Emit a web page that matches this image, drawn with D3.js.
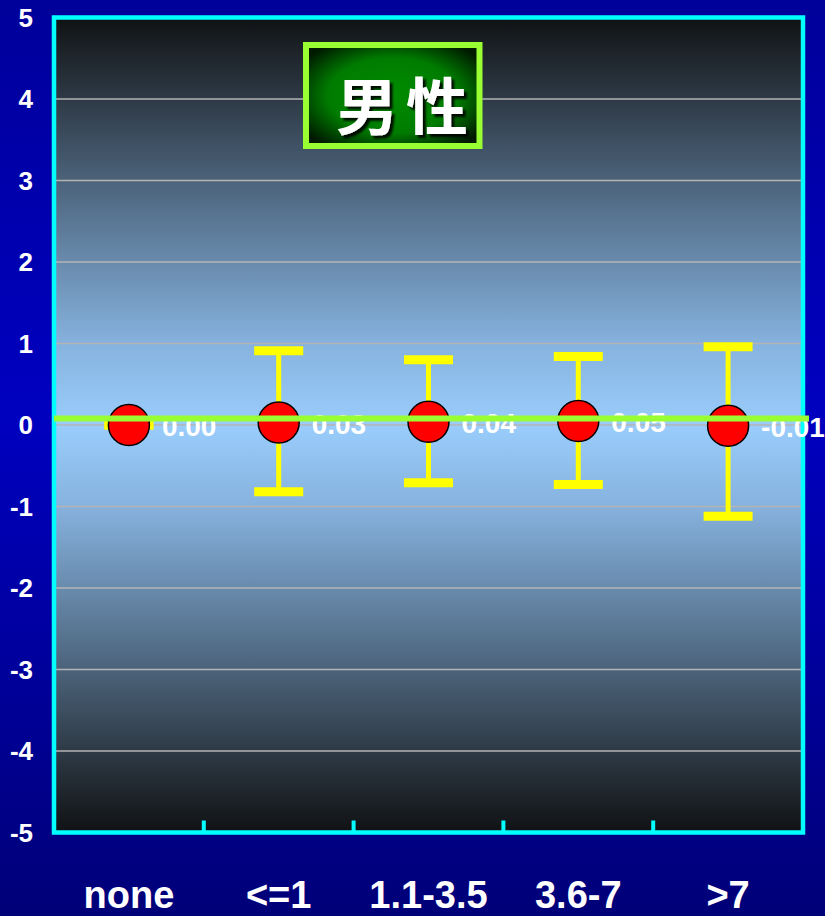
<!DOCTYPE html>
<html><head><meta charset="utf-8">
<script src="https://cdn.jsdelivr.net/npm/d3@7"></script>
<style>body{margin:0;background:#0000a0;}svg{display:block;}</style>
</head><body>
<script>
const categories = ["none", "<=1", "1.1-3.5", "3.6-7", ">7"];
const estimates = [0.00, 0.03, 0.04, 0.05, -0.01];
const upper = [0.00, 0.91, 0.80, 0.84, 0.96];
const lower = [0.00, -0.82, -0.71, -0.73, -1.12];
const valueLabels = ["0.00", "0.03", "0.04", "0.05", "-0.01"];
const yTicks = [5, 4, 3, 2, 1, 0, -1, -2, -3, -4, -5];
const refLine = 0.08;
const title = "男性";

(function () {
const W = 825, H = 916;
const svg = d3.select("body").append("svg").attr("width", W).attr("height", H);
const defs = svg.append("defs");

const bg = defs.append("linearGradient").attr("id", "bg").attr("x1", 0).attr("y1", 0).attr("x2", 0).attr("y2", 1);
[[0, "#00009a"], [0.45, "#0000c0"], [1, "#000078"]].forEach(s => bg.append("stop").attr("offset", s[0]).attr("stop-color", s[1]));

const pg = defs.append("linearGradient").attr("id", "pg").attr("x1", 0).attr("y1", 0).attr("x2", 0).attr("y2", 1);
[[0, "#101214"], [0.1, "#2e3a46"], [0.25, "#5a7794"], [0.4, "#86b2de"], [0.5, "#9acdfc"], [0.6, "#86b2de"], [0.75, "#5a7794"], [0.9, "#2e3a46"], [1, "#101214"]]
  .forEach(s => pg.append("stop").attr("offset", s[0]).attr("stop-color", s[1]));

const tg = defs.append("radialGradient").attr("id", "tg").attr("cx", "50%").attr("cy", "50%").attr("r", "62%");
[[0, "#008c00"], [0.6, "#007c00"], [1, "#001a00"]].forEach(s => tg.append("stop").attr("offset", s[0]).attr("stop-color", s[1]));

const sh = defs.append("filter").attr("id", "sh").attr("x", "-10%").attr("y", "-10%").attr("width", "130%").attr("height", "130%");
sh.append("feDropShadow").attr("dx", 3).attr("dy", 3).attr("stdDeviation", 0.8).attr("flood-color", "#000").attr("flood-opacity", 0.9);

svg.append("rect").attr("width", W).attr("height", H).attr("fill", "url(#bg)");

const pL = 54, pR = 803, pT = 17.5, pB = 832.5;
const x = d3.scaleBand().domain(categories).range([pL, pR]);
const y = d3.scaleLinear().domain([-5, 5]).range([pB, pT]);

svg.append("rect").attr("x", pL).attr("y", pT).attr("width", pR - pL).attr("height", pB - pT).attr("fill", "url(#pg)");

svg.append("g").selectAll("line").data(yTicks.filter(d => d > -5 && d < 5)).join("line")
  .attr("x1", pL).attr("x2", pR).attr("y1", d => y(d)).attr("y2", d => y(d))
  .attr("stroke", "#b4b4b4").attr("stroke-width", 1.5);

svg.append("rect").attr("x", 306).attr("y", 45).attr("width", 173.5).attr("height", 101)
  .attr("fill", "url(#tg)").attr("stroke", "#99ff33").attr("stroke-width", 6);
svg.append("text").attr("x", 406).attr("y", 130).attr("text-anchor", "middle")
  .attr("font-family", "'Noto Sans CJK SC','Noto Sans CJK JP',sans-serif").attr("font-weight", 700)
  .attr("font-size", 62).attr("letter-spacing", 8).attr("fill", "#fff").attr("filter", "url(#sh)").text(title);

svg.append("rect").attr("x", pL).attr("y", pT).attr("width", pR - pL).attr("height", pB - pT)
  .attr("fill", "none").attr("stroke", "#00ffff").attr("stroke-width", 4.5);

const bounds = categories.slice(1).map(c => x(c));
svg.append("g").selectAll("line").data(bounds).join("line")
  .attr("x1", d => d).attr("x2", d => d).attr("y1", pB).attr("y2", pB - 12)
  .attr("stroke", "#00ffff").attr("stroke-width", 4);

svg.append("g").selectAll("text").data(yTicks).join("text")
  .attr("x", 33).attr("y", d => y(d)).attr("dy", "0.36em").attr("text-anchor", "end")
  .attr("font-family", "'Liberation Sans',Arial,sans-serif").attr("font-weight", 700)
  .attr("font-size", 26).attr("fill", "#fff").text(d => d);

svg.append("g").selectAll("text").data(categories).join("text")
  .attr("x", d => x(d) + x.bandwidth() / 2).attr("y", 908).attr("text-anchor", "middle")
  .attr("font-family", "'Liberation Sans',Arial,sans-serif").attr("font-weight", 700)
  .attr("font-size", 38).attr("fill", "#fff").text(d => d);

const data = categories.map((c, i) => ({c, est: estimates[i], hi: upper[i], lo: lower[i], lab: valueLabels[i]}));
const cx = d => x(d.c) + x.bandwidth() / 2;

const eb = svg.append("g");
eb.selectAll(".stem").data(data).join("line").attr("class", "stem")
  .attr("x1", cx).attr("x2", cx).attr("y1", d => y(d.hi)).attr("y2", d => y(d.lo))
  .attr("stroke", "#ffff00").attr("stroke-width", 5);
eb.selectAll(".capH").data(data).join("line").attr("class", "capH")
  .attr("x1", d => cx(d) - 24.5).attr("x2", d => cx(d) + 24.5).attr("y1", d => y(d.hi)).attr("y2", d => y(d.hi))
  .attr("stroke", "#ffff00").attr("stroke-width", 9);
eb.selectAll(".capL").data(data).join("line").attr("class", "capL")
  .attr("x1", d => cx(d) - 24.5).attr("x2", d => cx(d) + 24.5).attr("y1", d => y(d.lo)).attr("y2", d => y(d.lo))
  .attr("stroke", "#ffff00").attr("stroke-width", 9);

svg.append("g").selectAll("circle").data(data).join("circle")
  .attr("cx", cx).attr("cy", d => y(d.est)).attr("r", 20.5)
  .attr("fill", "#ff0000").attr("stroke", "#000").attr("stroke-width", 1.5);

svg.append("g").selectAll("text").data(data).join("text")
  .attr("x", d => cx(d) + 33).attr("y", d => y(d.est) + 11)
  .attr("font-family", "'Liberation Sans',Arial,sans-serif").attr("font-weight", 700)
  .attr("font-size", 28).attr("fill", "#fff").text(d => d.lab);

svg.append("line").attr("x1", pL).attr("x2", 809).attr("y1", y(refLine)).attr("y2", y(refLine))
  .attr("stroke", "#99ff33").attr("stroke-width", 6);
})();
</script>
</body></html>
